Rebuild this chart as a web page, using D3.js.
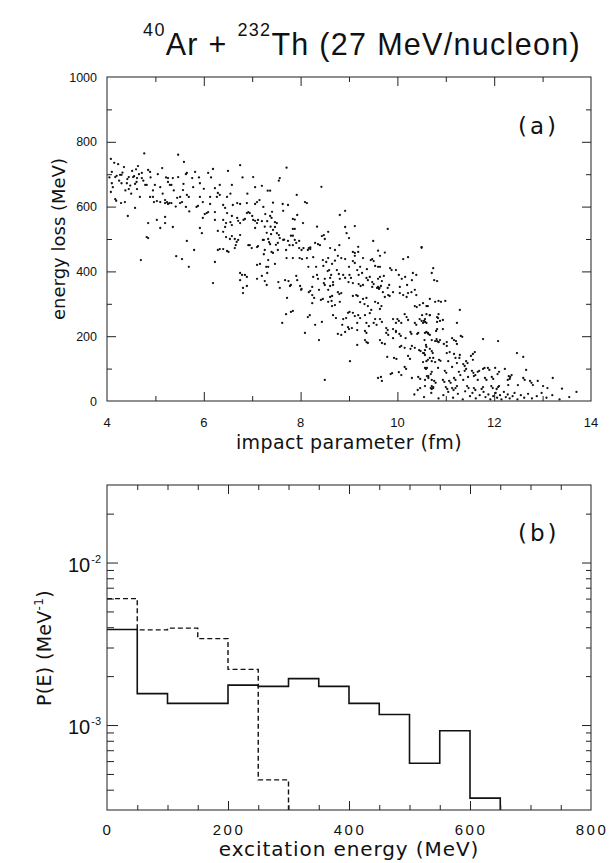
<!DOCTYPE html>
<html>
<head>
<meta charset="utf-8">
<script src="https://cdn.jsdelivr.net/npm/d3@7"></script>
<style>
body { margin: 0; background: #fff; }
text { fill: #111; }
</style>
</head>
<body>
<svg id="chart" width="610" height="863"></svg>
<script>
// 40Ar + 232Th, 27 MeV/nucleon: energy loss vs impact parameter, and P(E)

// (a) events: [impact parameter fm, energy loss MeV]
var eventsUpper = [
[4.08,747],[4.77,764],[5.47,760],[5.59,738],[6.75,728],[4.23,731],[4.35,722],[4.64,725],[5.14,719],[5.82,707],
[6.09,704],[6.19,716],[6.5,710],[7.02,691],[4.1,707],[4.27,698],[4.2,695],[4.52,710],[4.56,694],[4.72,704],
[4.89,707],[5.36,688],[5.47,691],[5.26,688],[5.63,700],[5.76,688],[4.45,691],[4.62,688],[7.71,720],[7.57,688],
[4.70,435],[4.43,571],[4.82,506],[4.58,596],[4.37,614],[4.17,623],[4.19,618],[4.29,611],[4.08,645],[4.1,672],
[4.17,691],[4.3,698],[4.54,691],[4.42,685],[4.66,700],[4.72,688],[4.85,713],[4.79,667],[4.82,667],[4.99,667],
[5.1,660],[4.58,670],[4.61,676],[4.41,672],[4.3,672],[4.45,654],[4.62,654],[4.89,630],[4.95,630],[4.97,614],
[5.03,617],[5.2,620],[5.1,614],[5.26,676],[5.3,667],[5.33,667],[5.65,704],
[5.57,651],[5.51,630],[5.45,627],[5.65,636],[5.69,630],[5.24,614],[5.26,608],[5.29,611],[5.33,611],[5.2,611],
[5.55,614],[5.51,611],[5.63,599],[5.2,568],[5.2,549],[5.03,559],[5.1,534],[4.85,549],[4.85,503],[5.36,537],
[5.43,447],[5.55,438],[5.65,494],[5.69,414],[5.8,466],[5.92,534],[5.96,518],[5.98,565],[6.06,580],[6.02,577],
[6.09,583],[6.13,608],[5.92,630],[5.98,614],[5.85,599],[5.88,602],[5.78,660],[5.92,672],[6.23,657],[6.29,642],
[6.33,636],[6.27,630],[6.33,667],[6.13,630],[6.23,583],[6.23,559],[6.29,525],[6.29,466],[6.33,469],[6.4,469],
[6.48,463],[6.51,460],[6.64,472],[6.23,429],[6.58,667],[6.48,630],[6.44,596],[6.48,580],[6.4,559],[6.46,549],
[6.55,552],[6.58,543],[6.44,537],[6.4,522],[6.46,506],[6.54,500],[6.58,509],[6.64,500],[6.68,491],[6.66,481],
[6.71,497],[6.75,512],[6.69,611],[6.6,605],[6.75,608],[6.58,571],[6.69,565],[6.71,556],[6.75,549],[6.82,559],
[6.85,562],[6.89,580],[6.92,583],[6.95,580],[7.0,571],[7.02,559],[7.06,556],[7.1,549],[7.12,559],
[7.06,534],[7.4,565],[7.47,552],[7.51,549],[7.43,528],[7.55,512],[6.89,611],[7.06,608],[7.1,614],[7.06,660],
[6.92,481],[6.95,481],[6.99,472],[7.1,475],[7.12,478],[7.22,497],
[7.24,497],[7.33,500],[7.35,490],[7.37,484],[7.24,453],[7.33,435],[7.4,460],
[7.43,457],[7.1,420],[7.16,423],[6.75,395],[6.79,389],[6.75,373],
[6.89,383],[7.1,377],[7.2,386],[7.26,370],[7.3,358],[6.19,364],[6.89,355],[6.85,389],
[6.81,349],[6.81,333],
[4.05,690],[4.12,660],[4.15,735],[4.25,680],[4.32,705],[4.38,650],[4.48,665],[4.5,640],[4.6,715],[4.68,630],
[4.75,680],[4.9,690],[4.95,650],[5.05,700],[5.15,640],[5.22,690],[5.38,650],[5.42,600],[5.58,670],[5.7,585],
[5.9,690],[6.0,655],[6.15,690],[6.4,605],[6.55,640],[6.8,690],[6.9,640],[7.15,620]
];

var eventsMiddle = [
[7.55,680],[7.2,664],[7.32,649],[7.37,649],[8.43,661],[7.92,636],[7.43,612],[7.63,608],[7.74,605],[8.09,614],
[8.13,611],[7.23,599],[7.64,587],[7.41,584],[7.27,577],[7.37,571],[7.93,574],[7.84,562],[7.88,560],[8.05,549],
[7.2,555],[7.31,555],[7.26,538],[7.38,538],[7.47,537],[7.84,531],[7.88,531],[8.34,538],[8.81,574],[8.92,587],
[9.12,540],[8.92,537],[8.95,518],[9.0,503],[8.57,522],[8.48,512],[8.44,509],[7.3,519],[7.39,515],
[7.51,518],[7.57,503],[7.64,497],[7.66,498],[7.53,488],[7.49,482],[7.8,510],[7.84,510],[7.74,494],[7.88,497],
[7.97,494],[7.91,488],[7.84,481],[7.77,481],[7.7,466],[7.53,466],[7.26,466],[7.97,472],[8.02,466],[8.06,472],
[8.17,472],[8.2,474],[8.15,466],[8.2,469],[8.3,488],[8.36,484],[8.4,481],[8.5,500],[8.61,472],[8.71,466],
[8.8,481],[9.08,460],[9.12,457],[9.19,460],[9.19,476],[9.5,494],[9.6,464],[9.74,458],[9.64,448],[9.8,531],
[9.12,448],[9.29,441],[9.45,435],[9.48,438],[9.51,432],[9.08,432],[9.12,426],[8.92,438],[8.77,448],[8.84,441],
[8.71,433],[8.57,441],[8.46,435],[8.53,429],[8.26,444],[8.13,441],[8.03,438],[7.98,441],[7.84,441],[7.71,441],
[7.47,423],[7.29,414],[7.33,414],[8.65,423],[8.75,404],[8.59,404],[8.56,401],[8.47,417],[8.32,414],[8.16,414],
[9.0,414],[9.23,414],[9.37,407],[9.54,417],[9.6,414],[9.64,414],
[9.85,410],[9.88,404],[10.12,438],[10.22,444],[10.5,475],[10.74,410],[10.71,395],
[10.3,373],[10.2,358],[10.05,352],[9.83,358],[9.8,349],[9.66,355],[9.63,349],[9.58,349],
[9.48,352],[9.08,364],[8.5,358],[8.24,352],[8.02,346],[7.31,395],[7.54,367],[7.68,373],[7.75,370],
[7.91,386],[7.93,373],[8.26,383],[8.36,377],[8.34,389],[8.48,364],[8.5,377],[8.61,380],[8.63,389],[8.67,367],
[8.67,358],[8.79,392],[8.81,377],[8.88,389],[8.92,380],[9.01,389],[9.04,380],[8.99,367],[9.17,404],[9.2,389],
[9.27,395],[9.2,361],[9.24,355],[9.29,358],[9.39,373],[9.36,380],[9.43,383],[9.51,361],[9.48,367],[9.6,377],
[9.64,383],[9.68,370],[9.72,386],[9.97,404],[10.03,389],[10.09,377],[10.16,383],[10.32,395],[10.39,389],[10.76,373],
[10.82,370],[7.57,349],[7.78,355],[7.8,358],[7.99,355],[8.01,343],[8.17,336],[8.2,340],[8.24,327],[8.28,318],
[8.38,343],[8.57,343],[8.61,355],[8.65,324],[8.61,321],[8.77,336],[8.8,330],[8.84,333],[8.81,306],[8.71,296],
[8.65,293],[8.57,306],[8.64,309],[8.42,312],[8.46,315],[8.24,302],[8.15,259],[8.3,235],[8.09,210],[8.38,188],
[7.8,275],[7.84,278],[7.7,268],[7.72,318],[7.62,241],[9.08,324],[9.15,327],[9.18,324],[9.29,315],[9.36,318],
[9.32,299],[9.23,305],[9.39,293],[9.46,281],[9.43,271],[9.54,306],[9.6,302],[9.67,293],[9.64,284],[9.62,346],
[9.6,352],[9.7,336],[9.74,321],[9.81,327],[9.84,324],[9.91,336],[10.05,333],[10.12,327],[10.19,321],[10.22,333],
[10.29,336],[10.36,343],[10.39,327],[10.36,293],[10.4,290],[10.46,296],[10.53,302],[10.6,293],[10.67,315],[10.78,306],
[10.85,309],[10.82,259],[10.85,268],[10.88,247],[10.67,265],[10.6,268],[10.46,253],[10.5,247],[10.53,241],[10.57,253],
[10.36,241],[10.39,235],[10.15,268],[10.19,259],[10.22,250],[10.0,253],[10.03,247],[10.08,241],[9.91,253],[9.97,241],
[9.91,222],[9.97,216],[9.77,225],[9.8,219],[9.64,253],[9.68,244],[9.54,253],[9.51,241],[9.57,235],[9.36,241],
[9.41,231],[9.33,265],[9.19,265],[9.23,256],[9.17,219],[9.33,216],[9.36,210],[9.33,188],[9.36,182],[9.39,179],
[9.17,173],[9.64,188],[9.68,179],[9.74,176],[9.77,210],[9.81,204],[9.91,194],[9.97,213],[10.04,207],[10.07,201],
[10.17,194],[10.27,213],[10.29,207],[10.41,207],[10.43,210],[10.57,210],[10.6,213],[10.64,207],[10.71,188],[10.78,185],
[10.81,191],[10.85,182],[10.6,167],[10.57,157],[10.67,161],[10.45,157],[10.48,154],[10.53,148],[10.3,170],[10.27,161],
[10.36,164],[10.15,164],[10.22,139],[10.26,130],[10.08,170],[10.05,167],[9.93,133],[9.98,130],[9.79,136],[10.6,123],
[10.63,127],[10.71,123],[10.74,133],[10.78,120],[10.53,120],[10.18,99],[10.15,105],[10.03,89],[10.08,80],[9.89,86],
[9.86,83],[9.66,74],[9.68,62],[9.6,71],[10.3,71],[10.43,74],[10.47,68],[10.59,99],[10.57,102],[10.64,77],
[10.71,65],[10.69,40],[10.71,37],[10.74,43],[10.42,34],[10.47,40],[9.02,123],[8.5,65],[8.77,207],[8.84,204],
[8.86,235],[8.98,228],[9.0,222],[9.06,225],[8.92,213],[8.88,253],[8.94,256],[8.98,272],[9.01,275],[9.08,272],
[9.12,262],[9.17,241],[8.67,265],[8.73,256],[8.44,244],[8.19,265]
];

var eventsLower = [
[10.63,293],[10.9,306],[10.99,309],[11.29,281],[11.23,241],[10.51,265],[10.55,247],[10.57,244],[10.6,241],
[10.67,265],[10.84,256],[10.82,244],[10.94,250],[10.63,210],[10.67,204],[10.8,216],[10.82,222],[10.94,222],[11.13,194],
[11.17,188],[11.21,185],[11.23,176],[11.31,201],[11.34,198],[11.77,191],[12.08,185],[10.82,185],[10.85,182],[10.88,188],
[10.96,176],[11.02,170],[11.02,182],[10.56,188],[10.59,173],[10.55,148],[10.57,142],[10.71,154],[10.73,148],[10.67,133],
[10.86,127],[10.89,124],[11.02,148],[11.08,151],[11.17,145],[11.2,133],[11.29,142],[11.28,133],[11.42,123],[11.45,117],
[11.52,139],[11.56,145],[11.6,151],[11.56,127],[11.36,114],[11.39,108],[11.23,117],[11.05,123],[11.13,105],[10.98,93],
[11.01,87],[10.84,102],[10.71,90],[10.69,83],[10.61,102],[10.61,77],[10.64,71],[10.57,65],[10.76,62],[10.79,56],
[10.94,65],[10.97,59],[11.07,62],[11.1,56],[11.17,71],[11.2,65],[11.27,90],[11.3,80],[11.42,99],[11.39,93],
[11.54,93],[11.57,87],[11.66,90],[11.69,93],[11.77,99],[11.8,102],[11.87,102],[11.9,96],[12.02,102],[11.81,71],
[11.84,65],[11.66,65],[11.58,77],[11.61,80],[11.46,74],[11.36,65],[11.95,74],[11.98,68],[12.1,90],[12.07,83],
[12.22,99],[12.33,74],[12.3,77],[12.36,80],[12.28,65],[12.32,68],[12.47,148],[12.6,136],[12.66,96],[12.6,71],
[12.63,65],[12.74,62],[12.77,56],[13.21,71],[13.01,46],[12.8,49],[12.49,49],[12.29,49],[12.08,43],[12.05,37],
[12.1,46],[11.94,46],[11.97,40],[11.77,43],[11.74,37],[11.58,40],[11.61,34],[11.44,46],[11.47,40],[11.23,46],
[11.2,40],[11.13,40],[11.16,34],[11.0,43],[11.03,37],[10.71,46],[10.74,40],[10.57,46],[10.5,473],
[10.35,20],[10.55,12],[10.7,25],[10.85,8],[10.95,18],[11.05,28],[11.15,10],[11.25,22],[11.35,5],[11.4,30],
[11.5,15],[11.55,25],[11.62,8],[11.7,18],[11.78,28],[11.82,12],[11.88,20],[11.92,5],[11.98,15],[12.03,25],
[12.06,10],[12.12,18],[12.15,5],[12.2,28],[12.24,12],[12.28,20],[12.32,8],[12.38,15],[12.42,25],[12.48,5],
[12.55,18],[12.62,10],[12.7,22],[12.78,8],[12.88,15],[12.98,25],[13.08,10],[13.2,18],[13.35,5],[13.55,12],
[13.7,28],[13.1,40],[12.9,62],[13.4,38]
];

// (b) histograms, 50 MeV bins
var binEdges = [0,50,100,150,200,250,300,350,400,450,500,550,600,650];
var solidP = [3.87e-3,1.56e-3,1.36e-3,1.36e-3,1.76e-3,1.73e-3,1.93e-3,1.73e-3,1.36e-3,1.16e-3,5.82e-4,9.23e-4,3.55e-4];
var dashedP = [6.0e-3,3.85e-3,3.95e-3,3.4e-3,2.2e-3,4.6e-4];

// ticks
var bTicksMajor = [6,8,10,12];
var bTicksMinor = [5,7,9,11,13];
var bLabels = [4,6,8,10,12,14];
var eTicksMajor = [200,400,600,800];
var eTicksMinor = [100,300,500,700,900];
var eLabels = [0,200,400,600,800,1000];
var exLabels = [0,200,400,600,800];
var exTicksMajor = [200,400,600];
var exTicksMinor = [50,100,150,250,300,350,450,500,550,650,700,750];
var pTicksMajor = [1e-3,1e-2];
var pTicksMinor = [4e-4,5e-4,6e-4,7e-4,8e-4,9e-4,2e-3,3e-3,4e-3,5e-3,6e-3,7e-3,8e-3,9e-3,2e-2];
var pLabels = [{v:1e-2, e:"-2"},{v:1e-3, e:"-3"}];

var svg = d3.select("#chart");
var left = 107, right = 591;

var xa = d3.scaleLinear().domain([4,14]).range([left,right]);
var ya = d3.scaleLinear().domain([0,1000]).range([401,77]);
var xb = d3.scaleLinear().domain([0,800]).range([left,right]);
var yb = d3.scaleLog().domain([3e-4,3e-2]).range([810,485]);

function inTicks(scale, orient, pos, values, len){
	var mk = {bottom:d3.axisBottom, top:d3.axisTop, left:d3.axisLeft, right:d3.axisRight}[orient];
	var tr = (orient=="bottom" || orient=="top") ? "translate(0,"+pos+")" : "translate("+pos+",0)";
	var g = svg.append("g").attr("transform", tr)
		.call(mk(scale).tickValues(values).tickSizeInner(-len).tickSizeOuter(0).tickFormat(""));
	g.select(".domain").remove();
	g.selectAll("line").attr("stroke","#222").attr("stroke-width",1);
}

function panelFrame(x, y){
	svg.append("rect")
		.attr("x", x.range()[0]).attr("y", y.range()[1])
		.attr("width", x.range()[1]-x.range()[0]).attr("height", y.range()[0]-y.range()[1])
		.attr("fill","none").attr("stroke","#333").attr("stroke-width",1.1);
}

// title
var title = svg.append("text").attr("x",362).attr("y",55).attr("text-anchor","middle")
	.attr("font-family","Liberation Sans, Arial, sans-serif").attr("font-size",30.5).attr("letter-spacing",1.3);
title.append("tspan").attr("font-size",18).attr("dy",-19).text("40");
title.append("tspan").attr("dy",19).text("Ar + ");
title.append("tspan").attr("font-size",18).attr("dy",-19).text("232");
title.append("tspan").attr("dy",19).text("Th (27 MeV/nucleon)");

// ---- panel (a)
var events = eventsUpper.concat(eventsMiddle, eventsLower);
svg.append("g").selectAll("circle")
	.data(events)
	.enter().append("circle")
	.attr("cx", d => xa(d[0]))
	.attr("cy", d => ya(d[1]))
	.attr("r", 1.15)
	.attr("fill","#111");

panelFrame(xa, ya);
inTicks(xa,"bottom",401,bTicksMajor,9);
inTicks(xa,"bottom",401,bTicksMinor,5);
inTicks(xa,"top",77,bTicksMajor,9);
inTicks(xa,"top",77,bTicksMinor,5);
inTicks(ya,"left",left,eTicksMajor,9);
inTicks(ya,"left",left,eTicksMinor,5);
inTicks(ya,"right",right,eTicksMajor,9);
inTicks(ya,"right",right,eTicksMinor,5);

svg.append("g").selectAll("text").data(eLabels).enter().append("text")
	.attr("x",97).attr("y", d => ya(d)+4.5).attr("text-anchor","end")
	.attr("font-family","Liberation Sans, Arial, sans-serif").attr("font-size",12.5)
	.text(d => d);
svg.append("g").selectAll("text").data(bLabels).enter().append("text")
	.attr("x", d => xa(d)).attr("y",427).attr("text-anchor","middle")
	.attr("font-family","Liberation Sans, Arial, sans-serif").attr("font-size",13)
	.text(d => d);

svg.append("text").attr("x",349).attr("y",449).attr("text-anchor","middle")
	.attr("font-family","DejaVu Sans, sans-serif").attr("font-size",19).attr("letter-spacing",0.4)
	.text("impact parameter (fm)");
svg.append("text").attr("transform","translate(65,239) rotate(-90)").attr("text-anchor","middle")
	.attr("font-family","DejaVu Sans, sans-serif").attr("font-size",18)
	.text("energy loss (MeV)");
svg.append("text").attr("x",518).attr("y",134)
	.attr("font-family","DejaVu Sans, sans-serif").attr("font-size",23).attr("letter-spacing",3)
	.text("(a)");

// ---- panel (b)
function stepPath(vals){
	var pts = vals.map((v,i) => [binEdges[i], v]);
	pts.push([binEdges[vals.length], vals[vals.length-1]]);
	pts.push([binEdges[vals.length], yb.domain()[0]]);
	return d3.line().x(d => xb(d[0])).y(d => yb(d[1])).curve(d3.curveStepAfter)(pts);
}

svg.append("path").attr("d", stepPath(dashedP))
	.attr("fill","none").attr("stroke","#111").attr("stroke-width",1.4).attr("stroke-dasharray","5,3");
svg.append("path").attr("d", stepPath(solidP))
	.attr("fill","none").attr("stroke","#111").attr("stroke-width",1.6);

panelFrame(xb, yb);
inTicks(xb,"bottom",810,exTicksMajor,9);
inTicks(xb,"bottom",810,exTicksMinor,5);
inTicks(xb,"top",485,exTicksMajor,9);
inTicks(xb,"top",485,exTicksMinor,5);
inTicks(yb,"left",left,pTicksMajor,11);
inTicks(yb,"left",left,pTicksMinor,7);
inTicks(yb,"right",right,pTicksMajor,9);
inTicks(yb,"right",right,pTicksMinor,5);

svg.append("g").selectAll("text").data(exLabels).enter().append("text")
	.attr("x", d => xb(d)+1).attr("y",835).attr("text-anchor","middle")
	.attr("font-family","Liberation Sans, Arial, sans-serif").attr("font-size",15).attr("letter-spacing",2.5)
	.text(d => d);

var pl = svg.append("g").selectAll("text").data(pLabels).enter().append("text")
	.attr("x",68).attr("y", d => yb(d.v)+9)
	.attr("font-family","Liberation Sans, Arial, sans-serif").attr("font-size",20);
pl.append("tspan").text("10");
pl.append("tspan").attr("font-size",11).attr("dy",-9).attr("dx",1).text(d => d.e);

svg.append("text").attr("x",349).attr("y",856).attr("text-anchor","middle")
	.attr("font-family","DejaVu Sans, sans-serif").attr("font-size",20).attr("letter-spacing",0.9)
	.text("excitation energy (MeV)");

var py = svg.append("text").attr("transform","translate(51,648) rotate(-90)").attr("text-anchor","middle")
	.attr("font-family","DejaVu Sans, sans-serif").attr("font-size",19).attr("letter-spacing",0.3);
py.append("tspan").text("P(E) (MeV");
py.append("tspan").attr("font-size",12).attr("dy",-8).text("-1");
py.append("tspan").attr("dy",8).text(")");

svg.append("text").attr("x",518).attr("y",541)
	.attr("font-family","DejaVu Sans, sans-serif").attr("font-size",23).attr("letter-spacing",3)
	.text("(b)");
</script>
</body>
</html>
